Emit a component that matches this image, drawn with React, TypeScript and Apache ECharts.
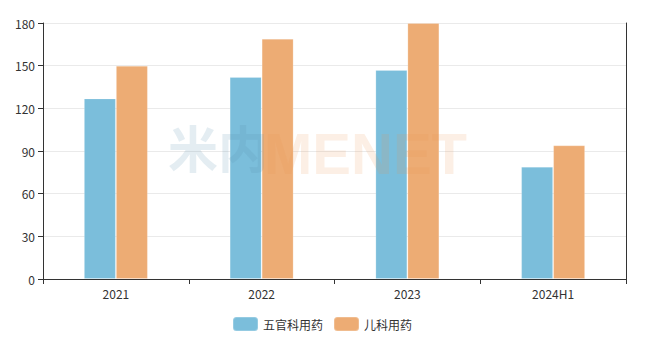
import React, { useEffect, useRef } from "react";
import * as echarts from "echarts";

const categories = ["2021", "2022", "2023", "2024H1"];
const seriesNames = ["五官科用药", "儿科用药"];
const wuguanValues = [127, 142, 147, 79];
const erkeValues = [150, 169, 180, 94];
const yTicks = { min: 0, max: 180, interval: 30 };

export default function App() {
  const ref = useRef<HTMLDivElement>(null);
  useEffect(() => {
    if (!ref.current) return;
    const chart = echarts.init(ref.current, null, { renderer: "svg" });
    chart.setOption({
      animation: false,
      textStyle: { fontFamily: "'Noto Sans CJK SC', 'Noto Sans', sans-serif" },
      grid: { left: 43, right: 25, top: 23, bottom: 66, containLabel: false },
      legend: {
        bottom: 8,
        left: 227,
        itemWidth: 25,
        itemHeight: 14,
        itemGap: 10,
        textStyle: { color: "#333", fontSize: 12 },
        data: seriesNames,
      },
      graphic: {
        elements: [
          {
            type: "text",
            left: 168,
            top: 121,
            z: 100,
            zlevel: 1,
            silent: true,
            style: {
              text: "米内",
              font: "bold 50px 'Noto Sans CJK SC'",
              fill: "rgba(90,140,175,0.16)",
            },
          },
          {
            type: "text",
            left: 264,
            top: 124,
            z: 100,
            zlevel: 1,
            silent: true,
            style: {
              text: "MENET",
              font: "bold 58px 'Liberation Sans', sans-serif",
              fill: "rgba(235,150,80,0.15)",
            },
          },
        ],
      },
      xAxis: {
        type: "category",
        data: categories,
        axisLine: { lineStyle: { color: "#333" } },
        axisTick: { show: true, alignWithLabel: false, lineStyle: { color: "#333" } },
        axisLabel: { color: "#333", fontSize: 12, margin: 8 },
      },
      yAxis: [
        {
          type: "value",
          min: yTicks.min,
          max: yTicks.max,
          interval: yTicks.interval,
          axisLine: { show: true, lineStyle: { color: "#333" } },
          axisTick: { show: true, lineStyle: { color: "#333" } },
          axisLabel: { color: "#333", fontSize: 12 },
          splitLine: { lineStyle: { color: "#eaeaea" } },
        },
        {
          type: "value",
          position: "right",
          min: yTicks.min,
          max: yTicks.max,
          interval: yTicks.interval,
          axisLine: { show: true, lineStyle: { color: "#333" } },
          axisTick: { show: false },
          axisLabel: { show: false },
          splitLine: { show: false },
        },
      ],
      series: [
        {
          name: seriesNames[0],
          type: "bar",
          data: wuguanValues,
          barWidth: 32,
          barGap: "0%",
          itemStyle: { color: "#7bbedb", borderColor: "rgba(255,255,255,0.2)", borderWidth: 1 },
          z: 3,
        },
        {
          name: seriesNames[1],
          type: "bar",
          data: erkeValues,
          barWidth: 32,
          barGap: "0%",
          itemStyle: { color: "#edac74", borderColor: "rgba(255,255,255,0.2)", borderWidth: 1 },
          z: 3,
        },
      ],
    });
    return () => chart.dispose();
  }, []);
  return (
    <div
      ref={ref}
      style={{ position: "absolute", left: 0, top: 0, width: 651, height: 345 }}
    />
  );
}
